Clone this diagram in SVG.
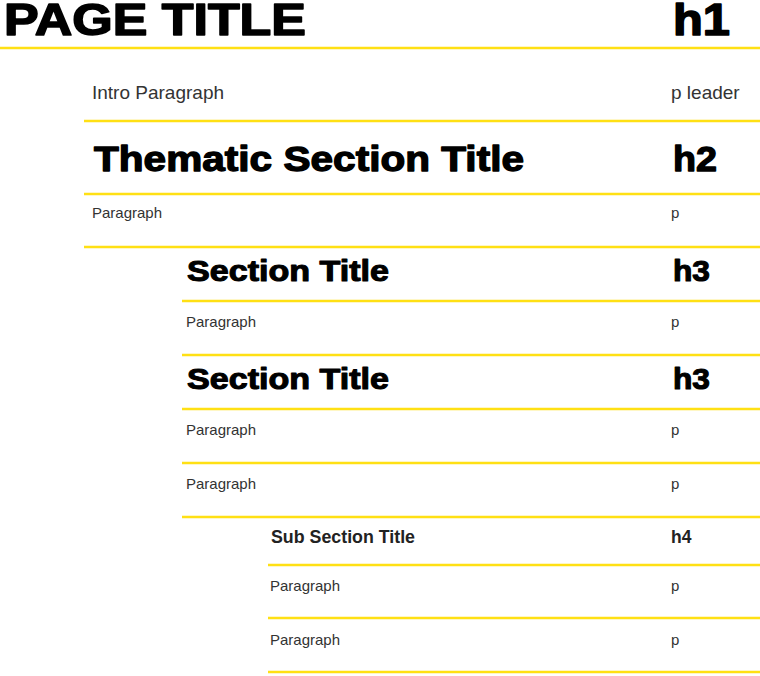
<svg xmlns="http://www.w3.org/2000/svg" width="760" height="676" viewBox="0 0 760 676">
<style>
.rule{stroke:#FFE014;stroke-width:2.5;fill:none}
.blk{font-family:"Liberation Sans",Arial,sans-serif;font-weight:bold;fill:#000;stroke:#000;stroke-linejoin:round}
.p{font-family:"Liberation Sans",Arial,sans-serif;fill:#333}
.h4{font-family:"Liberation Sans",Arial,sans-serif;font-weight:bold;fill:#222}
</style>
<rect width="760" height="676" fill="#fff"/>
<g id="connectors">
<line class="rule" x1="0" y1="48" x2="760" y2="48"/>
<line class="rule" x1="84" y1="121" x2="760" y2="121"/>
<line class="rule" x1="84" y1="194" x2="760" y2="194"/>
<line class="rule" x1="84" y1="247" x2="760" y2="247"/>
<line class="rule" x1="182" y1="301" x2="760" y2="301"/>
<line class="rule" x1="182" y1="355" x2="760" y2="355"/>
<line class="rule" x1="182" y1="409" x2="760" y2="409"/>
<line class="rule" x1="182" y1="463" x2="760" y2="463"/>
<line class="rule" x1="182" y1="517" x2="760" y2="517"/>
<line class="rule" x1="268" y1="565" x2="760" y2="565"/>
<line class="rule" x1="268" y1="618" x2="760" y2="618"/>
<line class="rule" x1="268" y1="672" x2="760" y2="672"/>
</g>
<g id="h1">
<text class="blk" x="4" y="35" font-size="45" stroke-width="1.6" textLength="302" lengthAdjust="spacingAndGlyphs">PAGE TITLE</text>
<text class="blk" x="673" y="35" font-size="45" stroke-width="1.6" textLength="57" lengthAdjust="spacingAndGlyphs">h1</text>
</g>
<g id="intro">
<text class="p" x="92" y="99" font-size="19">Intro Paragraph</text>
<text class="p" x="671" y="99" font-size="19">p leader</text>
</g>
<g id="h2">
<text class="blk" x="94" y="171" font-size="35" stroke-width="1.3" textLength="430" lengthAdjust="spacingAndGlyphs">Thematic Section Title</text>
<text class="blk" x="673" y="171" font-size="35" stroke-width="1.3" textLength="44" lengthAdjust="spacingAndGlyphs">h2</text>
</g>
<g id="p1">
<text class="p" x="92" y="218" font-size="15">Paragraph</text>
<text class="p" x="671" y="218" font-size="15">p</text>
</g>
<g id="h3a">
<text class="blk" x="187" y="281" font-size="30" stroke-width="1.1" textLength="202" lengthAdjust="spacingAndGlyphs">Section Title</text>
<text class="blk" x="673" y="281" font-size="30" stroke-width="1.1" textLength="37" lengthAdjust="spacingAndGlyphs">h3</text>
</g>
<g id="p2">
<text class="p" x="186" y="327" font-size="15">Paragraph</text>
<text class="p" x="671" y="327" font-size="15">p</text>
</g>
<g id="h3b">
<text class="blk" x="187" y="389" font-size="30" stroke-width="1.1" textLength="202" lengthAdjust="spacingAndGlyphs">Section Title</text>
<text class="blk" x="673" y="389" font-size="30" stroke-width="1.1" textLength="37" lengthAdjust="spacingAndGlyphs">h3</text>
</g>
<g id="p3">
<text class="p" x="186" y="435" font-size="15">Paragraph</text>
<text class="p" x="671" y="435" font-size="15">p</text>
</g>
<g id="p4">
<text class="p" x="186" y="489" font-size="15">Paragraph</text>
<text class="p" x="671" y="489" font-size="15">p</text>
</g>
<g id="h4">
<text class="h4" x="271" y="543" font-size="17.5" textLength="144" lengthAdjust="spacingAndGlyphs">Sub Section Title</text>
<text class="h4" x="671" y="543" font-size="17.5">h4</text>
</g>
<g id="p5">
<text class="p" x="270" y="591" font-size="15">Paragraph</text>
<text class="p" x="671" y="591" font-size="15">p</text>
</g>
<g id="p6">
<text class="p" x="270" y="645" font-size="15">Paragraph</text>
<text class="p" x="671" y="645" font-size="15">p</text>
</g>
</svg>
